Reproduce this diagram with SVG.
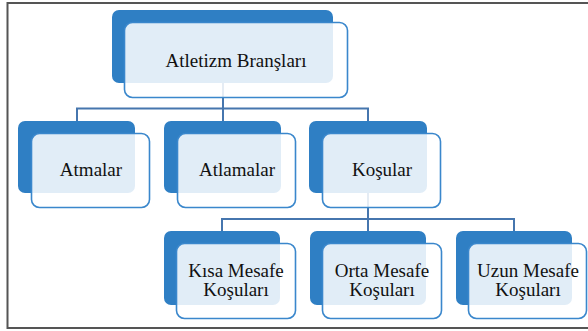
<svg xmlns="http://www.w3.org/2000/svg" width="588" height="331" viewBox="0 0 588 331">
<style>
.back{fill:#2f7fc4;}
.front{fill:#ffffff;fill-opacity:0.86;stroke:#3a87cc;stroke-width:1.6;}
.lbl{font-family:"Liberation Serif","Times New Roman",serif;font-size:19px;fill:#111;text-anchor:middle;}
.conn{fill:none;stroke:#4676ae;stroke-width:2;}
</style>
<rect x="0" y="0" width="588" height="331" fill="#ffffff"/>
<path d="M 592 3 H 7.5 V 328 H 592" fill="none" stroke="#555" stroke-width="2"/>
<g id="connectors">
<path class="conn" d="M 223 83 V 108.5 M 77 121 V 108.5 H 368 V 121 M 223 108.5 V 121"/>
<path class="conn" d="M 368 193 V 219 M 222 231 V 219 H 514 V 231 M 368 219 V 231"/>
</g>
<g id="n-atletizm">
<rect class="back" x="112" y="10" width="221" height="73" rx="7"/>
<rect class="front" x="124.5" y="22.5" width="223" height="75" rx="8"/>
<text class="lbl" x="236" y="67">Atletizm Branşları</text>
</g>
<g id="n-atmalar">
<rect class="back" x="18" y="121" width="117" height="72" rx="7"/>
<rect class="front" x="31.5" y="133.5" width="118" height="74" rx="8"/>
<text class="lbl" x="91" y="176">Atmalar</text>
</g>
<g id="n-atlamalar">
<rect class="back" x="164" y="121" width="117" height="72" rx="7"/>
<rect class="front" x="177.5" y="133.5" width="118" height="74" rx="8"/>
<text class="lbl" x="237" y="176">Atlamalar</text>
</g>
<g id="n-kosular">
<rect class="back" x="309" y="121" width="118" height="72" rx="7"/>
<rect class="front" x="322.5" y="133.5" width="118" height="74" rx="8"/>
<text class="lbl" x="382" y="176">Koşular</text>
</g>
<g id="n-kisa">
<rect class="back" x="164" y="231" width="116" height="74" rx="7"/>
<rect class="front" x="176.5" y="243.5" width="119" height="75" rx="8"/>
<text class="lbl" x="236" y="277">Kısa Mesafe</text>
<text class="lbl" x="236" y="296">Koşuları</text>
</g>
<g id="n-orta">
<rect class="back" x="310" y="231" width="116" height="74" rx="7"/>
<rect class="front" x="322.5" y="243.5" width="119" height="75" rx="8"/>
<text class="lbl" x="382" y="277">Orta Mesafe</text>
<text class="lbl" x="382" y="296">Koşuları</text>
</g>
<g id="n-uzun">
<rect class="back" x="456" y="231" width="116" height="74" rx="7"/>
<rect class="front" x="468.5" y="243.5" width="118" height="75" rx="8"/>
<text class="lbl" x="528" y="277">Uzun Mesafe</text>
<text class="lbl" x="528" y="296">Koşuları</text>
</g>
</svg>
